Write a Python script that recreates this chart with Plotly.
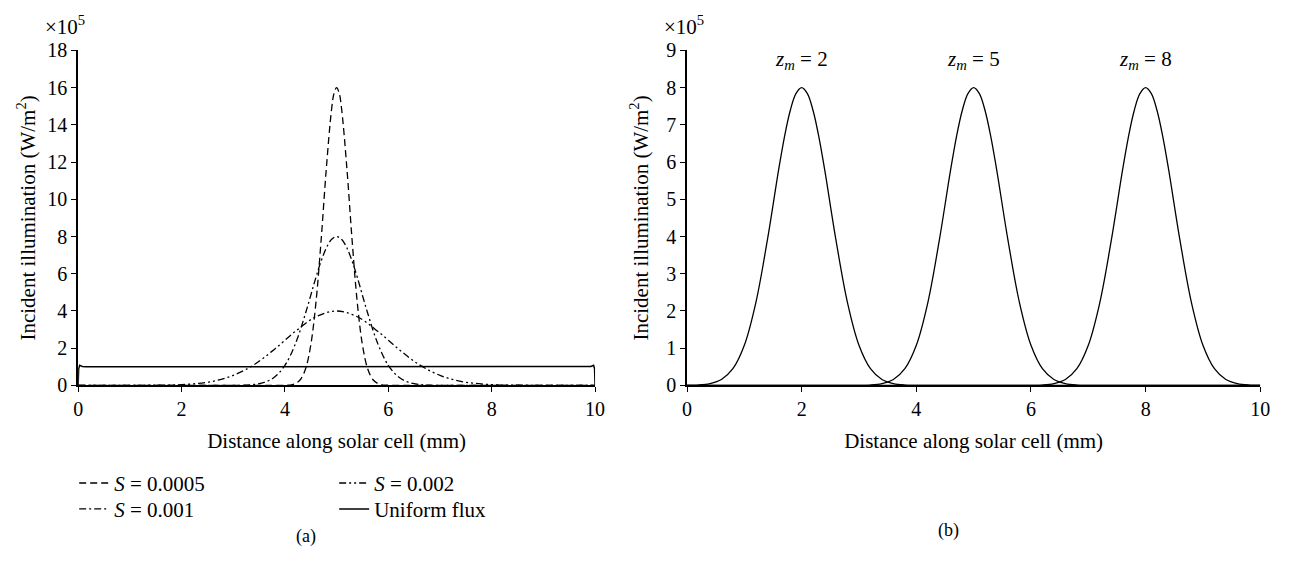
import plotly.graph_objects as go

# ---------------- Panel (a) data (values in units of 10^5 W/m^2) ----------------
x_s0005 = [0, 3.5, 3.8, 4.0, 4.1, 4.2, 4.3, 4.4, 4.5, 4.6, 4.7, 4.8, 4.9, 4.95, 5.0, 5.05,
           5.1, 5.2, 5.3, 5.4, 5.5, 5.6, 5.7, 5.8, 5.9, 6.0, 6.2, 6.5, 10]
y_s0005 = [0, 0, 0, 0.01, 0.02, 0.10, 0.32, 0.90, 2.17, 4.45, 7.79, 11.62, 14.77, 15.7, 16.0, 15.7,
           14.77, 11.62, 7.79, 4.45, 2.17, 0.90, 0.32, 0.10, 0.02, 0.01, 0, 0, 0]

x_s001 = [0, 2.5, 3.0, 3.2, 3.4, 3.6, 3.8, 4.0, 4.2, 4.4, 4.6, 4.7, 4.8, 4.9, 5.0,
          5.1, 5.2, 5.3, 5.4, 5.6, 5.8, 6.0, 6.2, 6.4, 6.6, 6.8, 7.0, 7.5, 10]
y_s001 = [0, 0, 0, 0.01, 0.05, 0.16, 0.45, 1.08, 2.22, 3.89, 5.81, 6.68, 7.38, 7.84, 8.0,
          7.84, 7.38, 6.68, 5.81, 3.89, 2.22, 1.08, 0.45, 0.16, 0.05, 0.01, 0, 0, 0]

x_s002 = [0, 1.0, 1.4, 1.8, 2.2, 2.6, 3.0, 3.4, 3.8, 4.2, 4.6, 5.0,
          5.4, 5.8, 6.2, 6.6, 7.0, 7.4, 7.8, 8.2, 8.6, 9.0, 10]
y_s002 = [0, 0, 0.01, 0.02, 0.08, 0.22, 0.54, 1.11, 1.95, 2.90, 3.69, 4.0,
          3.69, 2.90, 1.95, 1.11, 0.54, 0.22, 0.08, 0.02, 0.01, 0, 0]

x_uniform = [0, 0.01, 0.03, 0.08, 0.15, 9.85, 9.92, 9.97, 9.99, 10]
y_uniform = [0, 0.9, 1.08, 1.02, 1.0, 1.0, 1.02, 1.08, 0.9, 0]

# ---------------- Panel (b) data ----------------
x_z2 = [0, 0.2, 0.4, 0.6, 0.8, 1.0, 1.2, 1.4, 1.6, 1.7, 1.8, 1.9, 2.0, 2.1, 2.2, 2.3, 2.4,
        2.6, 2.8, 3.0, 3.2, 3.4, 3.6, 3.8, 4.0, 5.0, 10]
y_z2 = [0, 0.01, 0.05, 0.16, 0.45, 1.08, 2.22, 3.89, 5.81, 6.68, 7.38, 7.84, 8.0, 7.84, 7.38, 6.68, 5.81,
        3.89, 2.22, 1.08, 0.45, 0.16, 0.05, 0.01, 0, 0, 0]

x_z5 = [0, 2.0, 3.0, 3.2, 3.4, 3.6, 3.8, 4.0, 4.2, 4.4, 4.6, 4.7, 4.8, 4.9, 5.0, 5.1, 5.2, 5.3, 5.4,
        5.6, 5.8, 6.0, 6.2, 6.4, 6.6, 6.8, 7.0, 8.0, 10]
y_z5 = [0, 0, 0, 0.01, 0.05, 0.16, 0.45, 1.08, 2.22, 3.89, 5.81, 6.68, 7.38, 7.84, 8.0, 7.84, 7.38, 6.68, 5.81,
        3.89, 2.22, 1.08, 0.45, 0.16, 0.05, 0.01, 0, 0, 0]

x_z8 = [0, 5.0, 6.0, 6.2, 6.4, 6.6, 6.8, 7.0, 7.2, 7.4, 7.6, 7.7, 7.8, 7.9, 8.0, 8.1, 8.2, 8.3, 8.4,
        8.6, 8.8, 9.0, 9.2, 9.4, 9.6, 9.8, 10.0]
y_z8 = [0, 0, 0, 0.01, 0.05, 0.16, 0.45, 1.08, 2.22, 3.89, 5.81, 6.68, 7.38, 7.84, 8.0, 7.84, 7.38, 6.68, 5.81,
        3.89, 2.22, 1.08, 0.45, 0.16, 0.05, 0.01, 0]

peak_labels = ["<i>z</i><sub><i>m</i></sub> = 2", "<i>z</i><sub><i>m</i></sub> = 5",
               "<i>z</i><sub><i>m</i></sub> = 8"]
peak_pos = [2, 5, 8]

FONT = "Liberation Serif"
FT = 21   # titles / legend
FK = 20   # tick labels
W, H = 1295, 569

fig = go.Figure()

line_common = dict(color="black", width=1.3, shape="spline", smoothing=1.0)

fig.add_trace(go.Scatter(x=x_s0005, y=y_s0005, mode="lines", name="<i>S</i> = 0.0005",
                         line=dict(**line_common, dash="7px,4px"), xaxis="x", yaxis="y",
                         legend="legend"))
fig.add_trace(go.Scatter(x=x_s002, y=y_s002, mode="lines", name="<i>S</i> = 0.002",
                         line=dict(**line_common, dash="7px,3px,2px,3px,2px,3px"), xaxis="x", yaxis="y",
                         legend="legend2"))
fig.add_trace(go.Scatter(x=x_s001, y=y_s001, mode="lines", name="<i>S</i> = 0.001",
                         line=dict(**line_common, dash="7px,3px,2px,3px"), xaxis="x", yaxis="y",
                         legend="legend3"))
fig.add_trace(go.Scatter(x=x_uniform, y=y_uniform, mode="lines", name="Uniform flux",
                         line=dict(color="black", width=1.5), xaxis="x", yaxis="y",
                         legend="legend4"))

for xs, ys in [(x_z2, y_z2), (x_z5, y_z5), (x_z8, y_z8)]:
    fig.add_trace(go.Scatter(x=xs, y=ys, mode="lines", showlegend=False,
                             line=dict(**line_common), xaxis="x2", yaxis="y2"))

axis_common = dict(showline=True, linecolor="black", linewidth=1.6, ticks="outside",
                   ticklen=5, tickwidth=1.3, tickcolor="black", showgrid=False, zeroline=False,
                   tickfont=dict(family=FONT, size=FK, color="black"), mirror=False)

y_lo = 1 - 389.5 / H
y_hi = 1 - 41 / H

legend_common = dict(orientation="v", xanchor="left", yanchor="top", itemwidth=30,
                     font=dict(family=FONT, size=FT, color="black"),
                     bgcolor="rgba(0,0,0,0)", tracegroupgap=0)

col1_x, col2_x = 70 / W, 333 / W
row1_y, row2_y = 1 - 470 / H, 1 - 497 / H

fig.update_layout(
    width=W, height=H,
    margin=dict(l=0, r=0, t=0, b=0),
    paper_bgcolor="white", plot_bgcolor="white",
    font=dict(family=FONT, size=FT, color="black"),
    xaxis=dict(domain=[74 / W, 597 / W], range=[0, 10], tick0=0, dtick=2,
               title=dict(text="Distance along solar cell (mm)", standoff=14,
                          font=dict(family=FONT, size=FT)), anchor="y", **axis_common),
    yaxis=dict(domain=[y_lo, y_hi], range=[0, 18], tick0=0, dtick=2,
               title=dict(text="Incident illumination (W/m<sup>2</sup>)", standoff=6,
                          font=dict(family=FONT, size=FT)), anchor="x", **axis_common),
    xaxis2=dict(domain=[690 / W, 1270 / W], range=[0, 10], tick0=0, dtick=2,
                title=dict(text="Distance along solar cell (mm)", standoff=14,
                           font=dict(family=FONT, size=FT)), anchor="y2", **axis_common),
    yaxis2=dict(domain=[y_lo, y_hi], range=[0, 9], tick0=0, dtick=1,
                title=dict(text="Incident illumination (W/m<sup>2</sup>)", standoff=12,
                           font=dict(family=FONT, size=FT)), anchor="x2", **axis_common),
    legend=dict(x=col1_x, y=row1_y, **legend_common),
    legend2=dict(x=col2_x, y=row1_y, **legend_common),
    legend3=dict(x=col1_x, y=row2_y, **legend_common),
    legend4=dict(x=col2_x, y=row2_y, **legend_common),
    showlegend=True,
)

annotations = [
    dict(text="×10<sup>5</sup>", xref="paper", yref="paper", x=38 / W, y=1 - 15 / H,
         xanchor="left", yanchor="middle", showarrow=False, font=dict(family=FONT, size=FT)),
    dict(text="×10<sup>5</sup>", xref="paper", yref="paper", x=665 / W, y=1 - 15 / H,
         xanchor="left", yanchor="middle", showarrow=False, font=dict(family=FONT, size=FT)),
    dict(text="(a)", xref="paper", yref="paper", x=305 / W, y=1 - 547 / H,
         xanchor="center", yanchor="middle", showarrow=False, font=dict(family=FONT, size=18)),
    dict(text="(b)", xref="paper", yref="paper", x=955 / W, y=1 - 540 / H,
         xanchor="center", yanchor="middle", showarrow=False, font=dict(family=FONT, size=18)),
]
for lbl, px in zip(peak_labels, peak_pos):
    annotations.append(dict(text=lbl, xref="x2", yref="y2", x=px, y=8.75,
                            xanchor="center", yanchor="middle", showarrow=False,
                            font=dict(family=FONT, size=FT)))
fig.update_layout(annotations=annotations)

fig.write_html("out.html")
